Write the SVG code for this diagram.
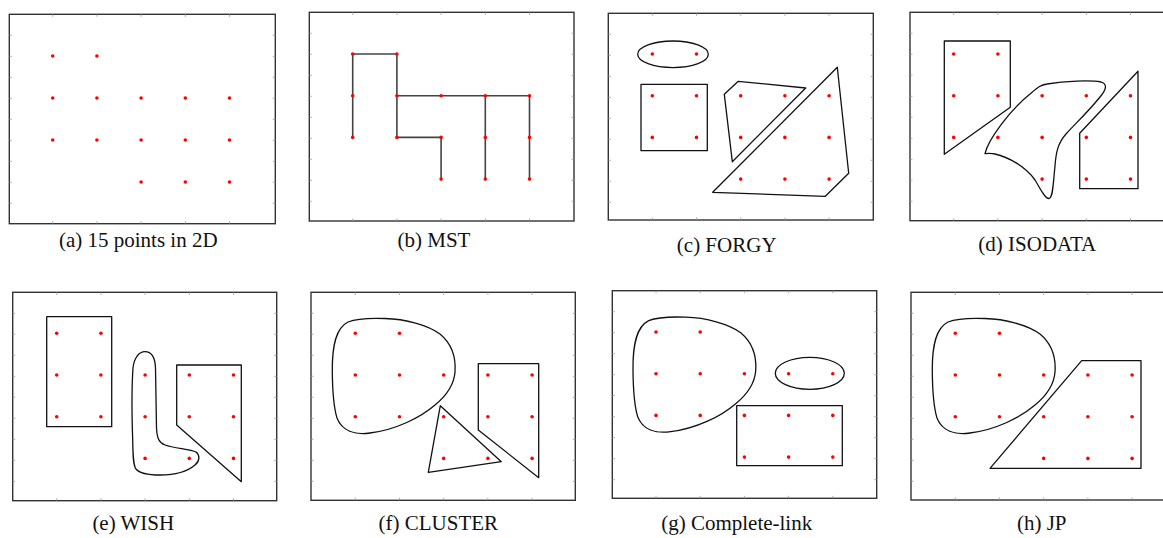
<svg xmlns="http://www.w3.org/2000/svg" xmlns:xlink="http://www.w3.org/1999/xlink" width="1163" height="538" viewBox="0 0 1163 538">
<style>
.frame{fill:none;stroke:#333;stroke-width:1.4}
.tick{fill:none;stroke:#999;stroke-width:0.8}
.shape{fill:none;stroke:#111;stroke-width:1.3;stroke-linejoin:round}
.edge{fill:none;stroke:#444;stroke-width:1.6}
.pt{fill:#f00}
.cap{font-family:"Liberation Serif","Times New Roman",serif;font-size:21px;fill:#111;text-anchor:middle}
</style>
<defs>
<g id="pts">
<circle class="pt" cx="0" cy="0" r="1.8"/><circle class="pt" cx="44.2" cy="0" r="1.8"/>
<circle class="pt" cx="0" cy="41.7" r="1.8"/><circle class="pt" cx="44.2" cy="41.7" r="1.8"/><circle class="pt" cx="88.4" cy="41.7" r="1.8"/><circle class="pt" cx="132.6" cy="41.7" r="1.8"/><circle class="pt" cx="176.8" cy="41.7" r="1.8"/>
<circle class="pt" cx="0" cy="83.4" r="1.8"/><circle class="pt" cx="44.2" cy="83.4" r="1.8"/><circle class="pt" cx="88.4" cy="83.4" r="1.8"/><circle class="pt" cx="132.6" cy="83.4" r="1.8"/><circle class="pt" cx="176.8" cy="83.4" r="1.8"/>
<circle class="pt" cx="88.4" cy="125.1" r="1.8"/><circle class="pt" cx="132.6" cy="125.1" r="1.8"/><circle class="pt" cx="176.8" cy="125.1" r="1.8"/>
</g>
<path id="ty" class="tick" d="M0 21h2.5M0 42h2.5M0 63h2.5M0 84h2.5M0 105h2.5M0 126h2.5M0 147h2.5M0 168h2.5M0 189h2.5"/>
<path id="tx" class="tick" d="M0 0v2.5M44.2 0v2.5M88.4 0v2.5M132.6 0v2.5M176.8 0v2.5"/>
<path id="blob" d="M-23,38.4 C-23.3,11.7 -19.3,-5.3 -7.3,-11.3 C2.7,-15.3 16.7,-15.3 29.7,-14.8 C49.7,-14.3 72.7,-8.3 84.7,0.7 C96.7,10.7 100.7,24.7 99.7,38.7 C98.7,51.7 90.7,62.7 79.7,71.7 C64.7,84.7 39.7,96.7 14.7,99.7 C-0.3,101.7 -13.3,97.7 -18.3,84.7 C-22.3,71.7 -22.8,56.7 -23,38.4 Z"/>
</defs>
<rect width="1163" height="538" fill="#fff"/>

<g id="panel-a">
<rect class="frame" x="9.3" y="14.3" width="266" height="209.4"/>
<use href="#ty" transform="translate(9.3,14.3)"/><use href="#ty" transform="translate(275.3,14.3) scale(-1,1)"/>
<use href="#tx" transform="translate(52.7,14.3)"/><use href="#tx" transform="translate(52.7,223.7) scale(1,-1)"/>
<use href="#pts" transform="translate(52.7,56) scale(1,1.007)"/>
<text class="cap" x="138.3" y="247">(a) 15 points in 2D</text>
</g>

<g id="panel-b">
<rect class="frame" x="309.3" y="12.3" width="264.7" height="208.7"/>
<use href="#ty" transform="translate(309.3,12.3)"/><use href="#ty" transform="translate(574,12.3) scale(-1,1)"/>
<use href="#tx" transform="translate(352.7,12.3)"/><use href="#tx" transform="translate(352.7,221) scale(1,-1)"/>
<g id="connectors">
<path class="edge" d="M352.7 137.4V54H396.9V137.4H441.1V179.1M396.9 95.7H529.5V179.1M485.3 95.7V179.1"/>
</g>
<use href="#pts" transform="translate(352.7,54)"/>
<text class="cap" x="434" y="247">(b) MST</text>
</g>

<g id="panel-c">
<rect class="frame" x="608.3" y="13.3" width="265" height="206.7"/>
<use href="#ty" transform="translate(608.3,13.3)"/><use href="#ty" transform="translate(873.3,13.3) scale(-1,1)"/>
<use href="#tx" transform="translate(652.3,13.3)"/><use href="#tx" transform="translate(652.3,220) scale(1,-1)"/>
<ellipse class="shape" cx="673" cy="54.3" rx="35.3" ry="13.3"/>
<rect class="shape" x="641" y="84.3" width="66.3" height="66.4"/>
<polygon class="shape" points="724.3,94.3 738.3,81.3 805.7,88 732.3,161.7"/>
<polygon class="shape" points="837.3,67.3 848.7,173.3 825.3,196.3 712.7,192.3"/>
<use href="#pts" transform="translate(652.3,54)"/>
<text class="cap" x="726.7" y="252">(c) FORGY</text>
</g>

<g id="panel-d">
<rect class="frame" x="910" y="12.3" width="270" height="208.4"/>
<use href="#ty" transform="translate(910,12.3)"/>
<use href="#tx" transform="translate(953.7,12.3)"/><use href="#tx" transform="translate(953.7,220.7) scale(1,-1)"/>
<polygon class="shape" points="944.3,41 1010.3,41 1010.3,107.3 944.3,154.3"/>
<polygon class="shape" points="1138,71.3 1138,188.7 1079.7,188.7 1079.7,133.3"/>
<path class="shape" d="M985,153.7 C988,140 1010,110 1030,94 C1037,88 1040,85 1047,84 C1065,81 1090,80 1101,82 C1108,84 1106,90 1100,97 C1088,112 1075,124 1066,134 C1058,143 1056,152 1055,166 C1053,185 1053,198 1049,198.5 C1045,199 1040,188 1035,180 C1025,166 1008,157 995,154 C990,153 987,153.5 985,153.7 Z"/>
<use href="#pts" transform="translate(953.7,54)"/>
<text class="cap" x="1037.3" y="251">(d) ISODATA</text>
</g>

<g id="panel-e">
<rect class="frame" x="12.7" y="292.3" width="264" height="208.4"/>
<use href="#ty" transform="translate(12.7,292.3)"/><use href="#ty" transform="translate(276.7,292.3) scale(-1,1)"/>
<use href="#tx" transform="translate(56.7,292.3)"/><use href="#tx" transform="translate(56.7,500.7) scale(1,-1)"/>
<rect class="shape" x="46.7" y="316.7" width="65" height="110"/>
<polygon class="shape" points="176.7,365 241.3,365 241.3,481.7 176.7,425"/>
<path class="shape" d="M145,351.7 C151,351.7 155,356 155.5,368 L156.5,428 C157,438 159,443 165,445 C175,448.5 190,449 196,452 C200,455 200,461 195,465 C188,471 175,475 160,475 C150,475 140,474 136,469 C133,465 133,455 132.7,440 C132,420 131.5,390 133,368 C134,358 139,351.7 145,351.7 Z"/>
<use href="#pts" transform="translate(56.7,333.3)"/>
<text class="cap" x="133.3" y="530">(e) WISH</text>
</g>

<g id="panel-f">
<rect class="frame" x="311" y="292.3" width="264.3" height="208"/>
<use href="#ty" transform="translate(311,292.3)"/><use href="#ty" transform="translate(575.3,292.3) scale(-1,1)"/>
<use href="#tx" transform="translate(355.3,292.3)"/><use href="#tx" transform="translate(355.3,500.3) scale(1,-1)"/>
<use href="#blob" class="shape" transform="translate(355.3,333.3)"/>
<polygon class="shape" points="440.3,405.7 501.3,461.7 428.3,472.3"/>
<polygon class="shape" points="478.3,363.7 538.7,363.7 538.7,477.7 478.3,430"/>
<use href="#pts" transform="translate(355.3,333.3)"/>
<text class="cap" x="438.3" y="530">(f) CLUSTER</text>
</g>

<g id="panel-g">
<rect class="frame" x="612.3" y="290.7" width="264.4" height="207.6"/>
<use href="#ty" transform="translate(612.3,290.7)"/><use href="#ty" transform="translate(876.7,290.7) scale(-1,1)"/>
<use href="#tx" transform="translate(656,290.7)"/><use href="#tx" transform="translate(656,498.3) scale(1,-1)"/>
<use href="#blob" class="shape" transform="translate(656,332)"/>
<ellipse class="shape" cx="809.8" cy="373.3" rx="34.5" ry="16"/>
<rect class="shape" x="736.7" y="405.7" width="105.6" height="60"/>
<use href="#pts" transform="translate(656,332)"/>
<text class="cap" x="736.7" y="530">(g) Complete-link</text>
</g>

<g id="panel-h">
<rect class="frame" x="911" y="292.3" width="270" height="207.7"/>
<use href="#ty" transform="translate(911,292.3)"/>
<use href="#tx" transform="translate(955.3,292.3)"/><use href="#tx" transform="translate(955.3,500) scale(1,-1)"/>
<use href="#blob" class="shape" transform="translate(955.3,333.3)"/>
<polygon class="shape" points="1081.7,360.7 1141,360.7 1141,468.3 990,468.3"/>
<use href="#pts" transform="translate(955.3,333.3)"/>
<text class="cap" x="1041.7" y="530">(h) JP</text>
</g>
</svg>
